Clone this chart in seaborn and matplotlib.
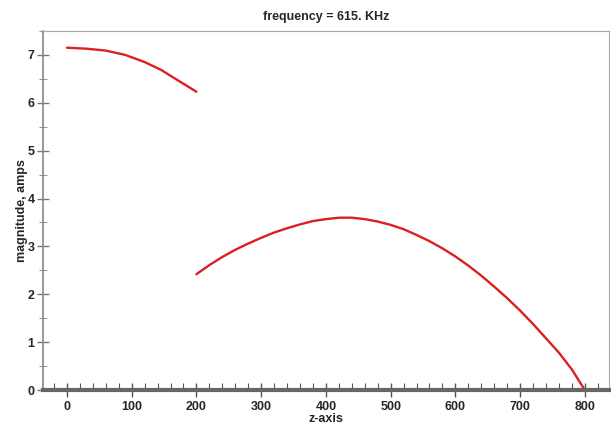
import numpy as np
import pandas as pd
import matplotlib
matplotlib.use("Agg")
import matplotlib.pyplot as plt
import seaborn as sns
from matplotlib.ticker import MultipleLocator

sns.set_style("white")
plt.rcParams['font.family'] = ['Liberation Sans', 'DejaVu Sans']

# segment 1: z from 0 to 200
z1 = [0, 30, 60, 90, 120, 145, 170, 200]
mag1 = [7.15, 7.13, 7.09, 7.0, 6.85, 6.69, 6.48, 6.23]

# segment 2: z from 200 to 800
z2 = [200, 220, 240, 260, 280, 300, 320, 340, 360, 380, 400, 420, 440, 460, 480, 500,
      520, 540, 560, 580, 600, 620, 640, 660, 680, 700, 720, 740, 760, 780, 800]
mag2 = [2.42, 2.61, 2.78, 2.93, 3.06, 3.18, 3.29, 3.38, 3.46, 3.53, 3.57, 3.6, 3.6, 3.57,
        3.52, 3.45, 3.36, 3.24, 3.11, 2.96, 2.79, 2.6, 2.39, 2.16, 1.92, 1.66, 1.38, 1.08,
        0.78, 0.43, 0.0]

df1 = pd.DataFrame({"z": z1, "mag": mag1})
df2 = pd.DataFrame({"z": z2, "mag": mag2})

fig = plt.figure(figsize=(6.11, 4.24), dpi=100)
ax = fig.add_axes([0.0704, 0.080, 0.926, 0.847])

red = "#dc1f1f"
sns.lineplot(data=df1, x="z", y="mag", color=red, lw=1.7, ax=ax)
sns.lineplot(data=df2, x="z", y="mag", color=red, lw=1.7, ax=ax)

ax.set_xlim(-37, 837)
ax.set_ylim(0, 7.5)
ax.xaxis.set_major_locator(MultipleLocator(100))
ax.xaxis.set_minor_locator(MultipleLocator(20))
ax.yaxis.set_major_locator(MultipleLocator(1))
ax.yaxis.set_minor_locator(MultipleLocator(0.5))

ax.tick_params(axis="x", which="major", direction="inout", length=10, width=1, color="#555555",
               labelsize=9, pad=3)
ax.tick_params(axis="x", which="minor", direction="in", length=5, width=0.8, color="#555555")
ax.tick_params(axis="y", which="major", direction="inout", length=8, width=1, color="#777777",
               labelsize=9, pad=2)
ax.tick_params(axis="y", which="minor", direction="inout", length=6, width=0.8, color="#999999")
ax.tick_params(bottom=True, left=True, which="both")
for lab in ax.get_xticklabels() + ax.get_yticklabels():
    lab.set_fontweight("bold")

ax.spines["bottom"].set_color("#666666")
ax.spines["bottom"].set_linewidth(3)
ax.spines["left"].set_color("#888888")
ax.spines["left"].set_linewidth(1.2)
ax.spines["top"].set_color("#aaaaaa")
ax.spines["right"].set_color("#aaaaaa")

ax.set_xlabel("z-axis", fontsize=9, fontweight="bold", labelpad=0)
ax.set_ylabel("magnitude, amps", fontsize=9, fontweight="bold", labelpad=0)
ax.set_title("frequency = 615. KHz", fontsize=9, fontweight="bold", pad=8)

fig.savefig("out.png", dpi=100)
